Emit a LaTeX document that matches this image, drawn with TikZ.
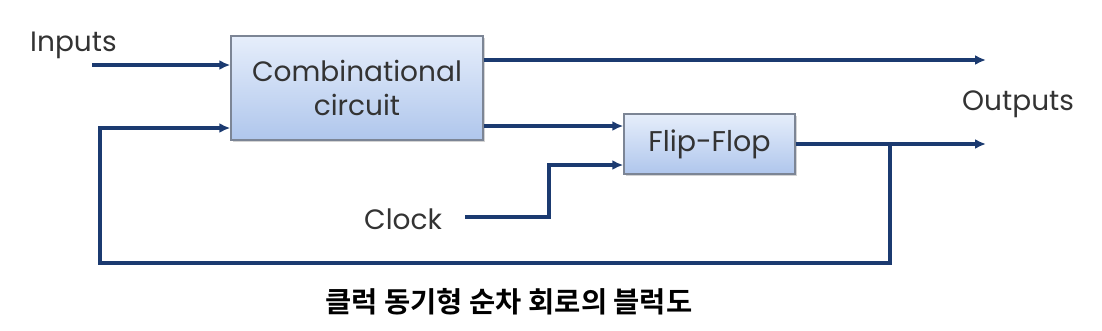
\documentclass[tikz,border=0pt]{standalone}
\usepackage{fontspec}
\setmainfont{Poppins}
\newfontfamily\krfont{Noto Sans CJK KR Bold}
\usetikzlibrary{arrows.meta,shadows}
\definecolor{wire}{HTML}{1B3A70}
\definecolor{txt}{HTML}{333333}
\definecolor{boxtop}{HTML}{E6EEFB}
\definecolor{boxbot}{HTML}{AFC6EC}
\definecolor{boxedge}{HTML}{7C8595}
\tikzset{
  blk/.style={draw=boxedge, line width=1.4pt, top color=boxtop, bottom color=boxbot,
    drop shadow={shadow xshift=1.5pt, shadow yshift=-1.5pt, opacity=0.35},
    text=txt, align=center, inner sep=0pt},
  wirel/.style={draw=wire, line width=3.2pt},
  arr/.style={wirel, -{Latex[length=11pt,width=10pt]}},
  lbl/.style={text=txt, inner sep=0pt},
}
\begin{document}
\begin{tikzpicture}[x=1pt,y=-1pt]
\useasboundingbox (0,0) rectangle (1102,330);
\node[blk, minimum width=252pt, minimum height=104pt, font=\fontsize{28}{34}\selectfont] (comb) at (357,88) {Combinational\\circuit};
\node[blk, minimum width=171pt, minimum height=60pt, font=\fontsize{28.5}{34}\selectfont] (ff) at (709.5,144) {Flip-Flop};
\node[lbl, font=\fontsize{28}{34}\selectfont, anchor=west] (inp) at (30,45) {Inputs};
\node[lbl, font=\fontsize{28}{34}\selectfont, anchor=west] (outp) at (962,104) {Outputs};
\node[lbl, font=\fontsize{28}{34}\selectfont, anchor=west] (clk) at (364,219) {Clock};
\node[font=\krfont\fontsize{28.5}{34}\selectfont, inner sep=0pt] (cap) at (509,302) {클럭 동기형 순차 회로의 블럭도};
% coordinates
\coordinate (inS) at (92,65);
\coordinate (o1) at (986,60);
\coordinate (o2) at (986,144);
\coordinate (tap) at (890,144);
\coordinate (clkS) at (465,217);
% wires
\draw[arr] (inS) -- (inS -| comb.west);
\draw[arr] (comb.east |- o1) -- (o1);
\draw[arr] (comb.east |- 0,126) -- (ff.west |- 0,126);
\draw[arr] (ff.east |- o2) -- (o2);
\draw[arr] (clkS) -- (549,217) -- (549,165) -- (ff.west |- 0,165);
\draw[arr, line join=miter] (tap) -- (tap |- 0,263) -- (100,263) -- (100,128) -- (comb.west |- 0,128);
\end{tikzpicture}
\end{document}
